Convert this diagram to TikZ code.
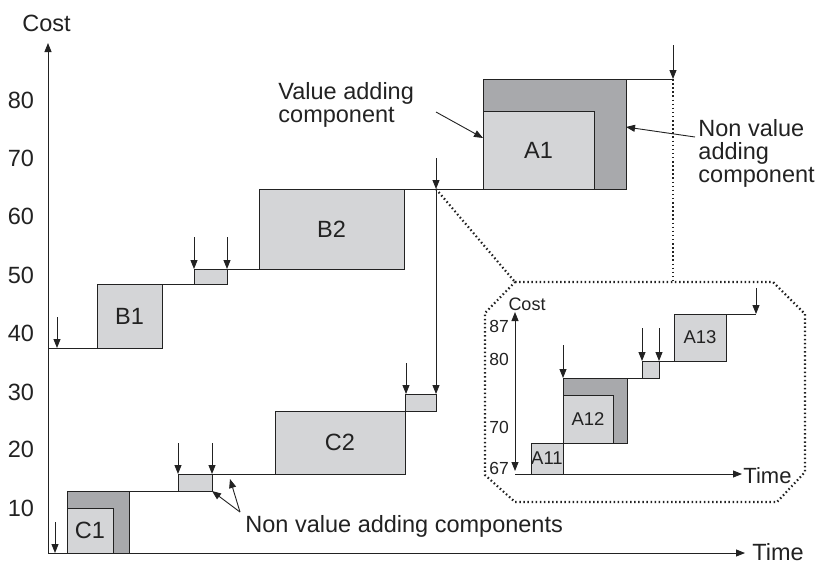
\documentclass[tikz,border=0pt]{standalone}
\usepackage{fontspec}
\setmainfont{Liberation Sans}
\usetikzlibrary{arrows.meta, positioning}
\definecolor{boxlight}{HTML}{D4D5D7}
\definecolor{boxdark}{HTML}{A8A9AC}
\definecolor{edge}{HTML}{222222}

\begin{document}
\begin{tikzpicture}[x=1pt, y=-1pt, line width=0.9pt, color=edge,
    txt/.style={font=\fontsize{23.5}{23}\selectfont, inner sep=0pt},
    small/.style={font=\fontsize{17.5}{18}\selectfont, inner sep=0pt},
    box/.style={draw=edge, fill=boxlight, inner sep=0pt, outer sep=0pt,
                anchor=south west, font=\fontsize{23.5}{24}\selectfont},
    nvbox/.style={box, fill=boxdark},
    inbox/.style={box, font=\fontsize{18.5}{19}\selectfont},
    innvbox/.style={inbox, fill=boxdark},
    drop/.style={-{Triangle[length=9pt, width=7pt]}},
    dual/.style={{Triangle[length=9pt, width=7pt]}-{Triangle[length=9pt, width=7pt]}},
    zoomline/.style={line width=2.2pt, dash pattern=on 1.5pt off 2.6pt}]
  \useasboundingbox (0,0) rectangle (818,566);

  % main axes
  \coordinate (o) at (48,553);
  \coordinate (ytop) at (48,43);
  \coordinate (xend) at (745,553);
  \draw[drop] (o) -- (ytop);
  \draw[drop] (o) -- (xend);
  \node[txt, anchor=base] (cost) at (46.5,31) {Cost};
  \node[txt, anchor=west] (time) at (752,552) {Time};
  \foreach \v/\y in {80/100, 70/158, 60/216, 50/275, 40/333, 30/392, 20/449, 10/508}
    \node[txt] (tick\v) at (21,\y) {\v};

  % C chain
  \node[nvbox, minimum width=62pt, minimum height=62pt] (c1) at (67,553) {};
  \node[box, minimum width=46pt, minimum height=45pt] (c1v) at (c1.south west) {C1};
  \node[box, minimum width=34pt, minimum height=17pt] (cn1) at (178,491) {};
  \node[box, minimum width=130pt, minimum height=63pt] (c2) at (275,474) {C2};
  \node[box, minimum width=31pt, minimum height=17pt] (cn2) at (c2.north east) {};
  \draw (c1.north east) -- (cn1.south west);
  \draw (cn1.north east) -- (c2.south west);

  % B chain and A1
  \coordinate (b0) at (48,348);
  \node[box, minimum width=65pt, minimum height=64pt] (b1) at (97,348) {B1};
  \node[box, minimum width=33pt, minimum height=15pt] (bn1) at (194,284) {};
  \node[box, minimum width=145pt, minimum height=80pt] (b2) at (259,269) {B2};
  \node[nvbox, minimum width=143pt, minimum height=110pt] (a1) at (483,189) {};
  \node[box, minimum width=111pt, minimum height=78pt] (a1v) at (a1.south west) {A1};
  \coordinate (jb) at (436,189);
  \coordinate (ja) at (673,79);
  \draw (b0) -- (b1.south west);
  \draw (b1.north east) -- (bn1.south west);
  \draw (bn1.north east) -- (b2.south west);
  \draw (b2.north east) -- (a1.south west);
  \draw (a1.north east) -- (ja);

  % drop arrows
  \foreach \n/\x/\y/\t in {dc0/55/522/o, dc1/178/443/cn1.north west, dc2/212/443/cn1.north east,
                           dc3/406/363/cn2.north west, db0/57/317/b0, db1/194/237/bn1.north west,
                           db2/227/237/bn1.north east, db3/436/158/jb, da1/673/45/ja}{
    \coordinate (\n) at (\x,\y);
    \draw[drop] (\n) -- (\n |- \t);
  }
  \draw[drop] (jb) -- (cn2.north east);

  % zoom outline
  \draw[zoomline] (515,282) coordinate (zn) -- (773,282) -- (805,314) -- (805,472)
    -- (777,502) -- (515,502) -- (485,475) -- (485,313) -- cycle;
  \draw[zoomline] (jb) -- (zn);
  \draw[zoomline] (ja) -- (ja |- zn);

  % inset axes
  \coordinate (io) at (515,474);
  \coordinate (itop) at (515,312);
  \coordinate (ibot) at (515,471);
  \coordinate (iend) at (742,474);
  \draw[drop] (io) -- (iend);
  \draw[dual] (itop) -- (ibot);
  \node[small, font=\fontsize{18}{18}\selectfont] (icost) at (527,304) {Cost};
  \node[inner sep=0pt, anchor=west, font=\fontsize{22}{22}\selectfont] (itime) at (743,476) {Time};
  \foreach \v/\y in {87/326, 80/359, 70/427, 67/468}
    \node[small] (itick\v) at (499,\y) {\v};

  % inset chain
  \node[inbox, minimum width=32pt, minimum height=31pt] (a11) at (531,474) {A11};
  \node[innvbox, minimum width=64pt, minimum height=65pt] (a12) at (a11.north east) {};
  \node[inbox, minimum width=50pt, minimum height=48pt] (a12v) at (a12.south west) {A12};
  \node[inbox, minimum width=17pt, minimum height=17pt] (an1) at (642,378) {};
  \node[inbox, minimum width=52pt, minimum height=47pt] (a13) at (674,361) {A13};
  \coordinate (iend2) at (756,314);
  \draw (a12.north east) -- (an1.south west);
  \draw (an1.north east) -- (a13.south west);
  \draw (a13.north east) -- (iend2);
  \foreach \n/\x/\y/\t in {di1/563/345/a12.north west, di2/642/328/an1.north west,
                           di3/659/328/an1.north east, di4/756/288/iend2}{
    \coordinate (\n) at (\x,\y);
    \draw[drop] (\n) -- (\n |- \t);
  }

  % callouts
  \node[txt, anchor=north west, align=left] (vlabel) at (278,82) {Value adding\\component};
  \coordinate (vtail) at (436,112);
  \draw[drop] (vtail) -- ([yshift=12pt]a1v.west);
  \node[txt, anchor=north west, align=left] (nvlabel) at (698,119) {Non value\\adding\\component};
  \coordinate (nvtail) at (695,137);
  \draw[drop] (nvtail) -- ([yshift=7pt]a1.east);
  \node[txt, anchor=base west] (nvc) at (245,532) {Non value adding components};
  \coordinate (ctail) at (240,512);
  \coordinate (cgap) at (230,479);
  \draw[drop] (ctail) -- (cn1.south east);
  \draw[drop] (ctail) -- (cgap);
\end{tikzpicture}
\end{document}
